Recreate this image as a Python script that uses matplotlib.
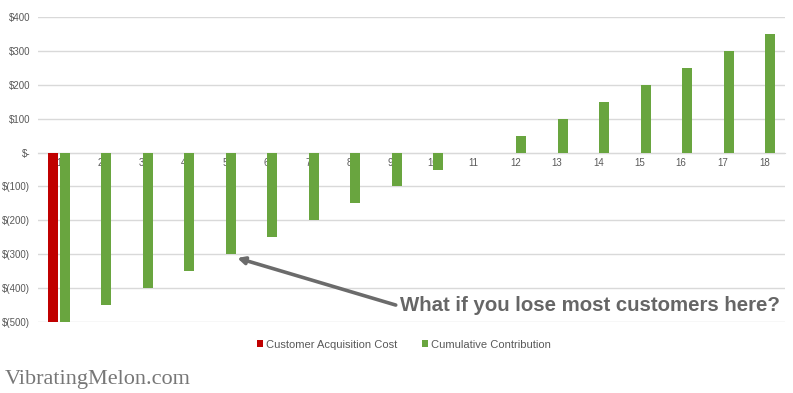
import numpy as np
import matplotlib.pyplot as plt
import matplotlib.ticker as ticker
plt.rc('font', family='Liberation Sans', size=7)

months = list(range(1, 19))
acq_cost = [-500] + [np.nan] * 17
cumulative = [-500, -450, -400, -350, -300, -250, -200, -150, -100, -50,
              0, 50, 100, 150, 200, 250, 300, 350]
y_ticks = [400, 300, 200, 100, 0, -100, -200, -300, -400, -500]

red = '#c00000'
green = '#69a53f'
grey = '#595959'

def money(v, pos=None):
    if v == 0:
        return '$-'
    if v < 0:
        return '$(%d)' % -v
    return '$%d' % v

fig = plt.figure(figsize=(7.93, 3.93), dpi=100)
ax = fig.add_axes([38/793, 71/393, 747/793, 305/393])

x = np.arange(len(months))
w = 0.23
ax.bar(x - 0.145, acq_cost, w, color=red, label='Customer Acquisition Cost', zorder=3)
ax.bar(x + 0.145, cumulative, w, color=green, label='Cumulative Contribution', zorder=3)

ax.set_xlim(-0.5, len(months) - 0.5)
ax.set_ylim(-500, 400)
ax.set_yticks(y_ticks)
ax.yaxis.set_major_formatter(ticker.FuncFormatter(money))
ax.grid(axis='y', color='#d9d9d9', lw=1, zorder=0)
for s in ['top', 'right', 'left']:
    ax.spines[s].set_visible(False)
ax.spines['bottom'].set_position(('data', 0))
ax.spines['bottom'].set_color('#d9d9d9')
ax.set_xticks(x)
ax.set_xticklabels([str(m) for m in months])
ax.tick_params(axis='both', length=0, colors=grey, labelsize=7)
ax.tick_params(axis='x', pad=4)
ax.tick_params(axis='y', pad=5.5)

# callout: arrow and text drawn separately
ax.annotate('', xy=(4.3, -311), xytext=(8.12, -450),
            arrowprops=dict(arrowstyle='-|>,head_length=0.6,head_width=0.3', color='#6b6b6b',
                            lw=2.6, shrinkA=0, shrinkB=0))
ax.text(8.22, -452, 'What if you lose most customers here?', fontsize=14.7,
        fontweight='bold', color='#666666', va='center', ha='left')

leg = ax.legend(loc='upper center', bbox_to_anchor=(0.49, -0.025), ncol=2, frameon=False,
                fontsize=8, handlelength=0.55, handleheight=0.55, handletextpad=0.3,
                columnspacing=2.2)
for t in leg.get_texts():
    t.set_color(grey)

fig.text(0.006, 0.022, 'VibratingMelon.com', family='Liberation Serif', fontsize=16,
         color='#777777')

plt.savefig('out.png', dpi=100)
